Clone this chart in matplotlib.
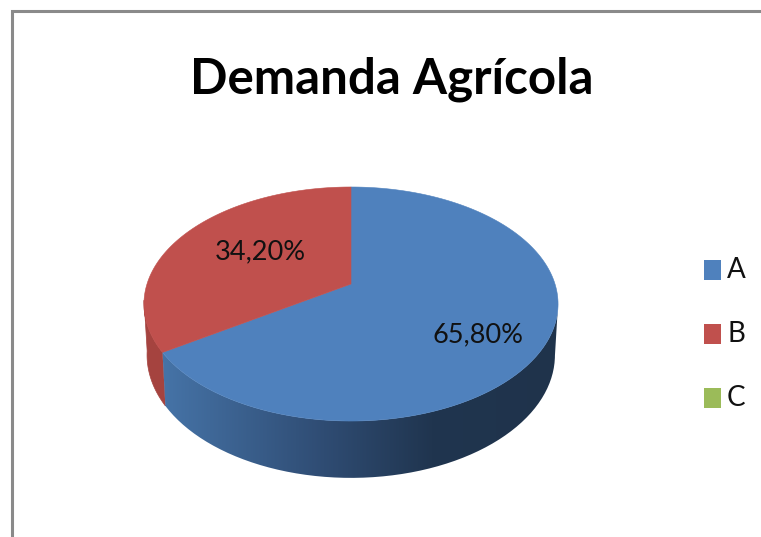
import numpy as np
import matplotlib
matplotlib.use("Agg")
import matplotlib.pyplot as plt
from matplotlib.colors import LinearSegmentedColormap
from matplotlib.patches import PathPatch, Polygon, Rectangle
from matplotlib.path import Path

# === Data ===
title = "Demanda Agrícola"
categories = ["A", "B", "C"]
shares = [65.8, 34.2, 0.0]
value_labels = ["65,80%", "34,20%"]
colors = ["#4f81bd", "#c0504d", "#9bbb59"]

W, H = 761, 537
plt.rcParams["font.family"] = ["Lato", "DejaVu Sans"]

fig = plt.figure(figsize=(W / 100, H / 100), dpi=100)
ax = fig.add_axes([0, 0, 1, 1])
ax.set_xlim(0, W)
ax.set_ylim(H, 0)
ax.axis("off")

# chart frame, runs off the right and bottom of the picture
ax.plot([12, 12, W + 5], [H + 5, 10.5, 10.5], color="#8a8a8a", lw=2.2, solid_joinstyle="miter")

# === Perspective pie helpers ===
CX, CY = 351, 284
R, A, B = 204, 113.6, 0.171


def rim(theta, scale_x=1.0, scale_y=1.0, drop=0.0):
    # theta in degrees, clockwise from 12 o'clock
    t = np.radians(theta)
    u, v = np.sin(t), np.cos(t)
    d = 1 + B * v
    return np.column_stack([CX + scale_x * R * u / d, CY - scale_y * A * v / d + drop])


def wall_path(start, end):
    ts = np.linspace(start, end, 120)
    top = rim(ts)
    bottom = rim(ts[::-1], scale_x=0.985, scale_y=1.05, drop=50)
    return Path(np.vstack([top, bottom, top[:1]]), closed=False)


edges = np.cumsum([0] + shares) / sum(shares) * 360

# === Side walls ===
blue_wall = LinearSegmentedColormap.from_list(
    "blue_wall",
    [(0.0, "#4674a8"), (0.41, "#2f4c73"), (0.68, "#20354f"), (1.0, "#1f334b")],
)
grad = np.linspace(0, 1, 256).reshape(1, -1)
img = ax.imshow(grad, extent=[160, 560, 500, 280], cmap=blue_wall, aspect="auto", zorder=2)
img.set_clip_path(PathPatch(wall_path(100, edges[1]), transform=ax.transData))
ax.set_xlim(0, W)
ax.set_ylim(H, 0)

ax.add_patch(PathPatch(wall_path(edges[1], 262), facecolor="#a5433f", edgecolor="#a5433f", lw=0.5, zorder=1))

# === Top face ===
for i, share in enumerate(shares):
    if share == 0:
        continue
    arc = rim(np.linspace(edges[i], edges[i + 1], 200))
    ax.add_patch(Polygon(np.vstack([[CX, CY], arc]), closed=True, facecolor=colors[i],
                         edgecolor=colors[i], lw=0.4, zorder=3))

# === Text ===
ax.text(392, 79, title, fontsize=35.5, fontweight="bold", ha="center", va="center", color="black", zorder=5)
label_pos = [(478, 335), (260, 252)]
for (x, y), label in zip(label_pos, value_labels):
    ax.text(x, y, label, fontsize=19.5, ha="center", va="center", color="#111111", zorder=5)

# === Legend ===
for i, cat in enumerate(categories):
    y = 270 + i * 64
    ax.add_patch(Rectangle((704, y - 10), 17, 20, facecolor=colors[i], edgecolor="none", zorder=4))
    ax.text(727, y, cat, fontsize=20, ha="left", va="center", color="#111111", zorder=5)

fig.savefig("out.png", dpi=100)
plt.close(fig)
